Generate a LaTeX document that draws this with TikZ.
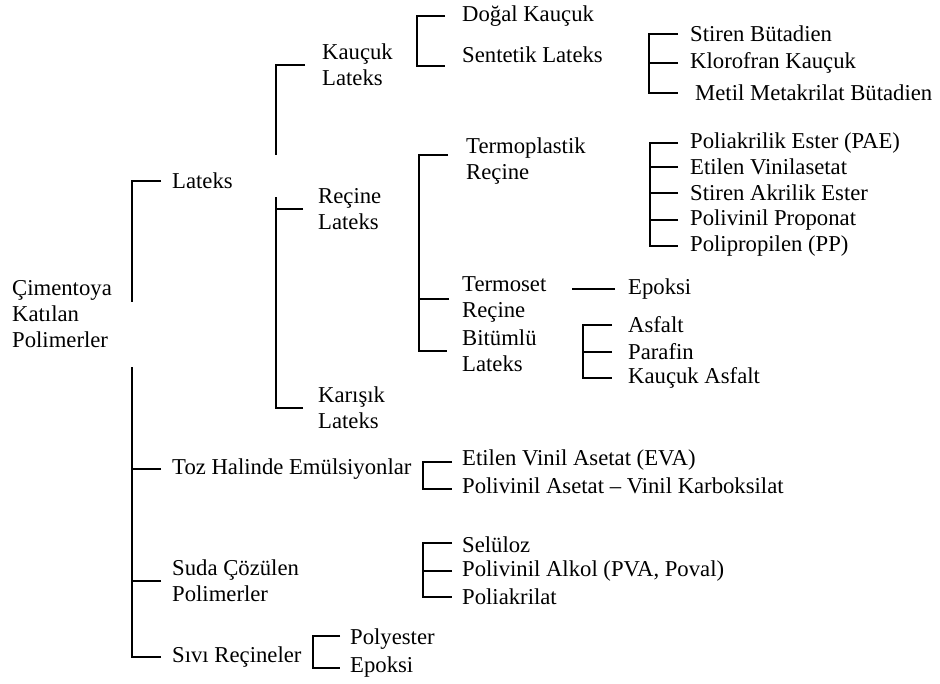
\documentclass[tikz,border=0pt]{standalone}
\usepackage{fontspec}
\setmainfont{Liberation Serif}
\usepackage{tikz}

\begin{document}
\begin{tikzpicture}[x=1pt, y=-1pt,
    lbl/.style={anchor=west, inner sep=0pt, align=left, font=\fontsize{22.7}{26}\selectfont},
    brk/.style={line width=1.7pt}]
    \useasboundingbox (0,0) rectangle (940,683);
    % main branches
    \node[lbl] (cim) at (12,314) {Çimentoya\\Katılan\\Polimerler};
    \node[lbl] (lateks) at (172,181) {Lateks};
    \node[lbl] (toz) at (172,469) {Toz Halinde Emülsiyonlar};
    \node[lbl] (suda) at (172,581) {Suda Çözülen\\Polimerler};
    \node[lbl] (sivi) at (172,657) {Sıvı Reçineler};
    % lateks
    \node[lbl] (kaucuk) at (322,65) {Kauçuk\\Lateks};
    \node[lbl] (recine) at (318,209) {Reçine\\Lateks};
    \node[lbl] (karisik) at (318,408) {Karışık\\Lateks};
    \node[lbl] (dogal) at (462,16) {Doğal Kauçuk};
    \node[lbl] (sentetik) at (462,55) {Sentetik Lateks};
    \node[lbl] (termop) at (466,161) {Termoplastik\\Reçine};
    \node[lbl] (termoset) at (462,299) {Termoset\\Reçine};
    \node[lbl] (bitumlu) at (462,351) {Bitümlü\\Lateks};
    \node[lbl] (epoksia) at (628,289) {Epoksi};
    \node[lbl] (asfalt) at (628,325) {Asfalt};
    \node[lbl] (parafin) at (628,352) {Parafin};
    \node[lbl] (kasfalt) at (628,378) {Kauçuk Asfalt};
    \node[lbl] (stiren) at (690,34) {Stiren Bütadien};
    \node[lbl] (klorofran) at (690,63) {Klorofran Kauçuk};
    \node[lbl] (metil) at (695,93) {Metil Metakrilat Bütadien};
    \node[lbl] (pae) at (690,143) {Poliakrilik Ester (PAE)};
    \node[lbl] (etilen) at (690,167) {Etilen Vinilasetat};
    \node[lbl] (sae) at (690,193) {Stiren Akrilik Ester};
    \node[lbl] (pvp) at (690,220) {Polivinil Proponat};
    \node[lbl] (pp) at (690,246) {Polipropilen (PP)};
    % toz, suda, sivi
    \node[lbl] (eva) at (462,460) {Etilen Vinil Asetat (EVA)};
    \node[lbl] (pvac) at (462,486) {Polivinil Asetat -- Vinil Karboksilat};
    \node[lbl] (seluloz) at (462,545) {Selüloz};
    \node[lbl] (pva) at (462,571) {Polivinil Alkol (PVA, Poval)};
    \node[lbl] (poliakr) at (462,597) {Poliakrilat};
    \node[lbl] (polyester) at (350,639) {Polyester};
    \node[lbl] (epoksib) at (350,667) {Epoksi};

    % root
    \draw[brk] ([xshift=-11]lateks.west) -- ++(-29,0) coordinate (r1) -- ++(0,121);
    \draw[brk] ([xshift=-11]sivi.west) -- ++(-29,0) coordinate (r2) -- ++(0,-290);
    \draw[brk] ([xshift=-11]toz.west) -- (toz.west -| r2);
    \draw[brk] ([xshift=-11]suda.west) -- (suda.west -| r2);
    % lateks
    \draw[brk] ([xshift=-17]kaucuk.west) -- ++(-29,0) -- ++(0,90);
    \draw[brk] ([xshift=-15]karisik.west) -- ++(-27,0) coordinate (l1) -- ++(0,-211);
    \draw[brk] ([xshift=-15]recine.west) -- (recine.west -| l1);
    \draw[brk] ([xshift=-17]dogal.west) -- ++(-28,0) |- ([xshift=-17,yshift=-11]sentetik.west);
    \draw[brk] ([xshift=-18,yshift=6]termop.west) -- ++(-29,0) coordinate (t1) |- ([xshift=-15]bitumlu.west);
    \draw[brk] ([xshift=-13]termoset.west) -- (termoset.west -| t1);
    \draw[brk] ([xshift=-13]epoksia.west) -- ++(-43,0);
    \draw[brk] ([xshift=-16]asfalt.west) -- ++(-29,0) coordinate (b1) |- ([xshift=-16]kasfalt.west);
    \draw[brk] ([xshift=-16]parafin.west) -- (parafin.west -| b1);
    \draw[brk] ([xshift=-12]stiren.west) -- ++(-29,0) coordinate (s1) |- ([xshift=-17]metil.west);
    \draw[brk] ([xshift=-12]klorofran.west) -- (klorofran.west -| s1);
    \draw[brk] ([xshift=-12]pae.west) -- ++(-28,0) coordinate (p1) |- ([xshift=-12]pp.west);
    \foreach \n in {etilen, sae, pvp}
        \draw[brk] ([xshift=-12]\n.west) -- (\n.west -| p1);
    % toz, suda, sivi
    \draw[brk] ([xshift=-10,yshift=-2]eva.west) -- ++(-29,0) |- ([xshift=-10,yshift=-3]pvac.west);
    \draw[brk] ([xshift=-10,yshift=2]seluloz.west) -- ++(-29,0) coordinate (e1) |- ([xshift=-10]poliakr.west);
    \draw[brk] ([xshift=-10]pva.west) -- (pva.west -| e1);
    \draw[brk] ([xshift=-10,yshift=3]polyester.west) -- ++(-27,0) |- ([xshift=-10,yshift=-1]epoksib.west);
\end{tikzpicture}
\end{document}
